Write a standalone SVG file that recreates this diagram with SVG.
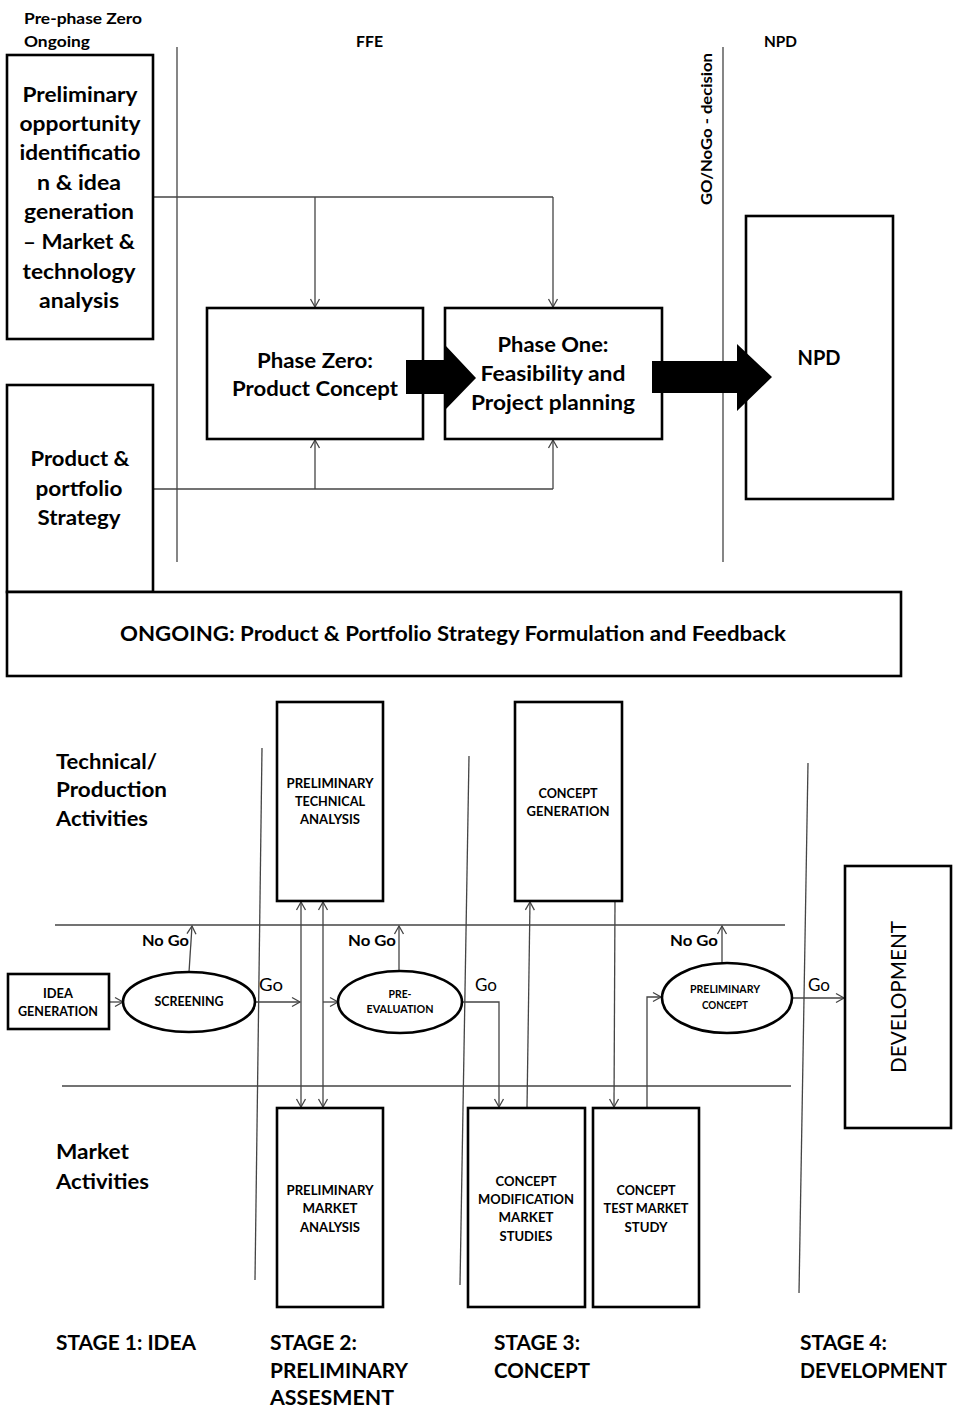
<svg xmlns="http://www.w3.org/2000/svg" width="953" height="1411" viewBox="0 0 953 1411">
  <style>
    .box { fill: #fff; stroke: #000; stroke-width: 2.6; }
    .blk { fill: #000; stroke: none; }
    .con { fill: none; stroke: #444; stroke-width: 1.3; }
    .arr { marker-end: url(#open); }
    .both { marker-start: url(#open); marker-end: url(#open); }
    text { font-family: Lato, "Liberation Sans", sans-serif; fill: #000; }
    .b { font-weight: bold; }
    .mid { text-anchor: middle; }
    .h16 { font-size: 16px; font-weight: bold; }
    .t21 { font-size: 21px; font-weight: bold; }
    .t20 { font-size: 20px; font-weight: bold; }
    .sm { font-size: 12.5px; font-weight: bold; }
    .xs { font-size: 11px; font-weight: bold; }
    .nogo { font-size: 15px; font-weight: bold; }
    .go { font-size: 17px; }
    .stage { font-size: 21px; font-weight: bold; }
  </style>
  <defs>
    <marker id="open" markerUnits="userSpaceOnUse" markerWidth="12" markerHeight="12" refX="10" refY="6" orient="auto-start-reverse">
      <path d="M2,1.5 L10,6 L2,10.5" fill="none" stroke="#444" stroke-width="1.3"/>
    </marker>
  </defs>

  <rect width="953" height="1411" fill="#fff"/>

  <!-- header labels -->
  <g id="headers">
    <text class="h16" x="24" y="24" textLength="118" lengthAdjust="spacingAndGlyphs">Pre-phase Zero</text>
    <text class="h16" x="24" y="47" textLength="66" lengthAdjust="spacingAndGlyphs">Ongoing</text>
    <text class="h16" x="356" y="47" textLength="27" lengthAdjust="spacingAndGlyphs">FFE</text>
    <text class="h16" x="764" y="47" textLength="33" lengthAdjust="spacingAndGlyphs">NPD</text>
    <text class="b mid" font-size="15" transform="translate(712,129) rotate(-90)" textLength="152" lengthAdjust="spacingAndGlyphs">GO/NoGo - decision</text>
  </g>

  <!-- connectors -->
  <g id="connectors">
    <!-- phase boundaries, upper part -->
    <line class="con" x1="177" y1="47" x2="177" y2="562"/>
    <line class="con" x1="723" y1="47" x2="723" y2="562"/>
    <!-- opportunity identification feeds both phases -->
    <line class="con" x1="153" y1="197" x2="553" y2="197"/>
    <line class="con arr" x1="315" y1="197" x2="315" y2="307"/>
    <line class="con arr" x1="553" y1="197" x2="553" y2="307"/>
    <!-- strategy feeds both phases -->
    <line class="con" x1="153" y1="489" x2="553" y2="489"/>
    <line class="con arr" x1="315" y1="489" x2="315" y2="440"/>
    <line class="con arr" x1="553" y1="489" x2="553" y2="440"/>

    <!-- swim-lane separators, lower part -->
    <line class="con" x1="55" y1="925" x2="785" y2="925"/>
    <line class="con" x1="62" y1="1086" x2="791" y2="1086"/>
    <!-- stage separators -->
    <line class="con" x1="262" y1="748" x2="255" y2="1280"/>
    <line class="con" x1="469" y1="756" x2="460" y2="1285"/>
    <line class="con" x1="808" y1="763" x2="799" y2="1293"/>

    <line class="con arr" x1="109" y1="1002" x2="123" y2="1002"/>
    <line class="con arr" x1="189" y1="972" x2="192" y2="926"/>
    <line class="con arr" x1="255" y1="1002" x2="300" y2="1002"/>
    <line class="con both" x1="301" y1="902" x2="301" y2="1107"/>
    <line class="con both" x1="323" y1="902" x2="323" y2="1107"/>
    <line class="con arr" x1="323" y1="1002" x2="338" y2="1002"/>
    <line class="con arr" x1="399" y1="971" x2="399" y2="926"/>
    <polyline class="con arr" points="462,1002 499,1002 499,1107"/>
    <line class="con arr" x1="527" y1="1108" x2="530" y2="902"/>
    <line class="con arr" x1="615" y1="901" x2="614" y2="1107"/>
    <polyline class="con arr" points="647,1108 647,997 661,997"/>
    <line class="con arr" x1="722" y1="963" x2="722" y2="926"/>
    <line class="con arr" x1="792" y1="998" x2="844" y2="998"/>
  </g>

  <!-- upper part: FFE model -->
  <g id="opportunity-identification">
    <rect class="box" x="7" y="55" width="146" height="284"/>
    <text class="t21 mid" x="80" y="102" textLength="115" lengthAdjust="spacingAndGlyphs">Preliminary</text>
    <text class="t21 mid" x="80" y="131" textLength="121" lengthAdjust="spacingAndGlyphs">opportunity</text>
    <text class="t21 mid" x="80" y="160" textLength="121" lengthAdjust="spacingAndGlyphs">identificatio</text>
    <text class="t21 mid" x="79" y="190" textLength="84" lengthAdjust="spacingAndGlyphs">n &amp; idea</text>
    <text class="t21 mid" x="79" y="219" textLength="110" lengthAdjust="spacingAndGlyphs">generation</text>
    <text class="t21 mid" x="79" y="249" textLength="112" lengthAdjust="spacingAndGlyphs">– Market &amp;</text>
    <text class="t21 mid" x="79" y="279" textLength="113" lengthAdjust="spacingAndGlyphs">technology</text>
    <text class="t21 mid" x="79" y="308" textLength="80" lengthAdjust="spacingAndGlyphs">analysis</text>
  </g>

  <g id="portfolio-strategy">
    <rect class="box" x="7" y="385" width="146" height="207"/>
    <text class="t21 mid" x="80" y="466" textLength="99" lengthAdjust="spacingAndGlyphs">Product &amp;</text>
    <text class="t21 mid" x="79" y="496" textLength="87" lengthAdjust="spacingAndGlyphs">portfolio</text>
    <text class="t21 mid" x="79" y="525" textLength="83" lengthAdjust="spacingAndGlyphs">Strategy</text>
  </g>

  <g id="ongoing">
    <rect class="box" x="7" y="592" width="894" height="84"/>
    <text class="t20 mid" x="453" y="641" textLength="666" lengthAdjust="spacingAndGlyphs">ONGOING: Product &amp; Portfolio Strategy Formulation and Feedback</text>
  </g>

  <g id="phase-zero">
    <rect class="box" x="207" y="308" width="216" height="131"/>
    <text class="t20 mid" x="315" y="368" textLength="116" lengthAdjust="spacingAndGlyphs">Phase Zero:</text>
    <text class="t20 mid" x="315" y="396" textLength="166" lengthAdjust="spacingAndGlyphs">Product Concept</text>
  </g>

  <g id="phase-one">
    <rect class="box" x="445" y="308" width="217" height="131"/>
    <text class="t20 mid" x="553" y="352" textLength="111" lengthAdjust="spacingAndGlyphs">Phase One:</text>
    <text class="t20 mid" x="553" y="381" textLength="145" lengthAdjust="spacingAndGlyphs">Feasibility and</text>
    <text class="t20 mid" x="553" y="410" textLength="164" lengthAdjust="spacingAndGlyphs">Project planning</text>
  </g>

  <g id="npd">
    <rect class="box" x="746" y="216" width="147" height="283"/>
    <text class="t21 mid" x="819" y="365" textLength="43" lengthAdjust="spacingAndGlyphs">NPD</text>
  </g>

  <!-- block arrows between phases -->
  <g id="flow-arrows">
    <polygon class="blk" points="406,360 445,360 445,345 476,378 445,410 445,394 406,394"/>
    <polygon class="blk" points="652,361 737,361 737,344 772,377 737,411 737,393 652,393"/>
  </g>

  <!-- lower part: stage model -->
  <g id="lane-labels">
    <text class="t20" x="56" y="769" textLength="101" lengthAdjust="spacingAndGlyphs">Technical/</text>
    <text class="t20" x="56" y="797" textLength="111" lengthAdjust="spacingAndGlyphs">Production</text>
    <text class="t20" x="56" y="826" textLength="92" lengthAdjust="spacingAndGlyphs">Activities</text>
    <text class="t20" x="56" y="1159" textLength="73" lengthAdjust="spacingAndGlyphs">Market</text>
    <text class="t20" x="56" y="1189" textLength="93" lengthAdjust="spacingAndGlyphs">Activities</text>
  </g>

  <g id="preliminary-technical-analysis">
    <rect class="box" x="277" y="702" width="106" height="199"/>
    <text class="sm mid" x="330" y="788" textLength="87" lengthAdjust="spacingAndGlyphs">PRELIMINARY</text>
    <text class="sm mid" x="330" y="806" textLength="70" lengthAdjust="spacingAndGlyphs">TECHNICAL</text>
    <text class="sm mid" x="330" y="824" textLength="60" lengthAdjust="spacingAndGlyphs">ANALYSIS</text>
  </g>

  <g id="concept-generation">
    <rect class="box" x="515" y="702" width="107" height="199"/>
    <text class="sm mid" x="568" y="798" textLength="59" lengthAdjust="spacingAndGlyphs">CONCEPT</text>
    <text class="sm mid" x="568" y="816" textLength="83" lengthAdjust="spacingAndGlyphs">GENERATION</text>
  </g>

  <g id="idea-generation">
    <rect class="box" x="8" y="974" width="101" height="55"/>
    <text class="sm mid" x="58" y="998" textLength="30" lengthAdjust="spacingAndGlyphs">IDEA</text>
    <text class="sm mid" x="58" y="1016" textLength="80" lengthAdjust="spacingAndGlyphs">GENERATION</text>
  </g>

  <g id="screening">
    <ellipse class="box" cx="189" cy="1002" rx="66" ry="30"/>
    <text class="sm mid" x="189" y="1006" textLength="69" lengthAdjust="spacingAndGlyphs">SCREENING</text>
  </g>

  <g id="pre-evaluation">
    <ellipse class="box" cx="400" cy="1002" rx="62" ry="31"/>
    <text class="xs mid" x="400" y="998" textLength="23" lengthAdjust="spacingAndGlyphs">PRE-</text>
    <text class="xs mid" x="400" y="1013" textLength="67" lengthAdjust="spacingAndGlyphs">EVALUATION</text>
  </g>

  <g id="preliminary-concept">
    <ellipse class="box" cx="727" cy="998" rx="65" ry="35"/>
    <text class="xs mid" x="725" y="993" textLength="70" lengthAdjust="spacingAndGlyphs">PRELIMINARY</text>
    <text class="xs mid" x="725" y="1009" textLength="46" lengthAdjust="spacingAndGlyphs">CONCEPT</text>
  </g>

  <g id="development">
    <rect class="box" x="845" y="866" width="106" height="262"/>
    <text class="mid" font-size="21" transform="translate(906,997) rotate(-90)" textLength="152" lengthAdjust="spacingAndGlyphs">DEVELOPMENT</text>
  </g>

  <g id="preliminary-market-analysis">
    <rect class="box" x="277" y="1108" width="106" height="199"/>
    <text class="sm mid" x="330" y="1195" textLength="87" lengthAdjust="spacingAndGlyphs">PRELIMINARY</text>
    <text class="sm mid" x="330" y="1213" textLength="55" lengthAdjust="spacingAndGlyphs">MARKET</text>
    <text class="sm mid" x="330" y="1232" textLength="60" lengthAdjust="spacingAndGlyphs">ANALYSIS</text>
  </g>

  <g id="concept-modification">
    <rect class="box" x="468" y="1108" width="117" height="199"/>
    <text class="sm mid" x="526" y="1186" textLength="61" lengthAdjust="spacingAndGlyphs">CONCEPT</text>
    <text class="sm mid" x="526" y="1204" textLength="96" lengthAdjust="spacingAndGlyphs">MODIFICATION</text>
    <text class="sm mid" x="526" y="1222" textLength="55" lengthAdjust="spacingAndGlyphs">MARKET</text>
    <text class="sm mid" x="526" y="1241" textLength="53" lengthAdjust="spacingAndGlyphs">STUDIES</text>
  </g>

  <g id="concept-test-market">
    <rect class="box" x="593" y="1108" width="106" height="199"/>
    <text class="sm mid" x="646" y="1195" textLength="59" lengthAdjust="spacingAndGlyphs">CONCEPT</text>
    <text class="sm mid" x="646" y="1213" textLength="85" lengthAdjust="spacingAndGlyphs">TEST MARKET</text>
    <text class="sm mid" x="646" y="1232" textLength="43" lengthAdjust="spacingAndGlyphs">STUDY</text>
  </g>

  <!-- decision labels -->
  <g id="decision-labels">
    <text class="nogo" x="142" y="946" textLength="47" lengthAdjust="spacingAndGlyphs">No Go</text>
    <text class="nogo" x="348" y="946" textLength="48" lengthAdjust="spacingAndGlyphs">No Go</text>
    <text class="nogo" x="670" y="946" textLength="48" lengthAdjust="spacingAndGlyphs">No Go</text>
    <text class="go" x="259" y="991" textLength="24" lengthAdjust="spacingAndGlyphs">Go</text>
    <text class="go" x="475" y="991" textLength="22" lengthAdjust="spacingAndGlyphs">Go</text>
    <text class="go" x="808" y="991" textLength="22" lengthAdjust="spacingAndGlyphs">Go</text>
  </g>

  <!-- stage captions -->
  <g id="stage-labels">
    <text class="stage" x="56" y="1350" textLength="140" lengthAdjust="spacingAndGlyphs">STAGE 1: IDEA</text>
    <text class="stage" x="270" y="1350" textLength="87" lengthAdjust="spacingAndGlyphs">STAGE 2:</text>
    <text class="stage" x="270" y="1378" textLength="138" lengthAdjust="spacingAndGlyphs">PRELIMINARY</text>
    <text class="stage" x="270" y="1405" textLength="124" lengthAdjust="spacingAndGlyphs">ASSESMENT</text>
    <text class="stage" x="494" y="1350" textLength="86" lengthAdjust="spacingAndGlyphs">STAGE 3:</text>
    <text class="stage" x="494" y="1378" textLength="96" lengthAdjust="spacingAndGlyphs">CONCEPT</text>
    <text class="stage" x="800" y="1350" textLength="87" lengthAdjust="spacingAndGlyphs">STAGE 4:</text>
    <text class="stage" x="800" y="1378" textLength="147" lengthAdjust="spacingAndGlyphs">DEVELOPMENT</text>
  </g>
</svg>
